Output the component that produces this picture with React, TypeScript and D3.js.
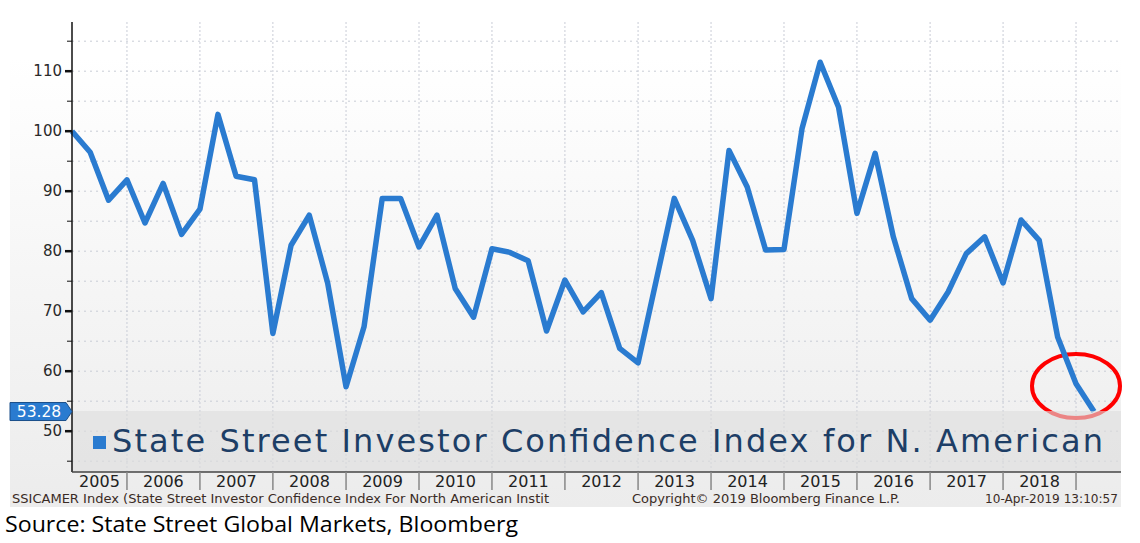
import React from 'react';
import * as d3 from 'd3';

// quarterly readings of the index, first one is Q2 2005
const firstQuarter = new Date(2005, 3, 1);
const indexValues = [
  100, 96.5, 88.5, 91.9, 84.7, 91.3, 82.8, 87.0, 102.8, 92.5, 91.9, 66.3,
  81.0, 86.0, 74.7, 57.4, 67.4, 88.8, 88.8, 80.7, 86.0, 73.8, 69.0, 80.4,
  79.8, 78.4, 66.7, 75.2, 69.9, 73.1, 63.8, 61.4, 75.0, 88.8, 81.8, 72.1,
  96.8, 90.7, 80.2, 80.3, 100.4, 111.5, 104.0, 86.3, 96.3, 82.4, 72.1, 68.5,
  73.2, 79.6, 82.4, 74.7, 85.2, 81.8, 65.7, 57.9, 53.28,
];
const yTickLabels = [50, 60, 70, 80, 90, 100, 110];
const yMinorTicks = [45, 55, 65, 75, 85, 95, 105, 115];
const yearLabels = [2005, 2006, 2007, 2008, 2009, 2010, 2011, 2012, 2013, 2014, 2015, 2016, 2017, 2018];

const legendText = 'State Street Investor Confidence Index for N. American';
const footLeft = 'SSICAMER Index (State Street Investor Confidence Index For North American Instit';
const footMid = 'Copyright\u00a9 2019 Bloomberg Finance L.P.';
const footRight = '10-Apr-2019 13:10:57';
const sourceText = 'Source: State Street Global Markets, Bloomberg';

const W = 1140;
const H = 543;
const plot = { left: 72, right: 1121, top: 22, bottom: 472 };
const lineBlue = '#2a7bd0';
const font = '"DejaVu Sans", Verdana, sans-serif';

const App = () => {
  const points = indexValues.map((v, i) => ({ date: d3.timeMonth.offset(firstQuarter, i * 3), value: v }));
  const last = points[points.length - 1];

  const x = d3.scaleTime()
    .domain([firstQuarter, new Date(2019, 7, 14)])
    .range([plot.left, plot.right]);
  const y = d3.scaleLinear()
    .domain([43.2, 118.2])
    .range([plot.bottom, plot.top]);

  const line = d3.line<{ date: Date; value: number }>()
    .x(d => x(d.date))
    .y(d => y(d.value));

  const yearBounds = d3.timeYear.range(new Date(2006, 0, 1), x.domain()[1]);
  const gridVals = [...yTickLabels, ...yMinorTicks];

  const ly = y(last.value);

  return (
    <svg width={W} height={H} style={{ position: 'absolute', left: 0, top: 0, background: '#fff' }}>
      <defs>
        <linearGradient id="bg" x1="0" y1="0" x2="0" y2="1">
          <stop offset="0" stopColor="#ffffff" />
          <stop offset="1" stopColor="#ececec" />
        </linearGradient>
      </defs>
      <rect x={10} y={57} width={plot.right - 10} height={507 - 57} fill="url(#bg)" />

      {/* dotted grid */}
      {gridVals.map(v => (
        <line key={'h' + v} x1={plot.left} x2={plot.right} y1={y(v)} y2={y(v)}
          stroke="#c9ccd6" strokeWidth={1} strokeDasharray="2,4" />
      ))}
      {yearBounds.map(d => (
        <line key={'v' + d.getFullYear()} x1={x(d)} x2={x(d)} y1={plot.top} y2={plot.bottom}
          stroke="#c9ccd6" strokeWidth={1} strokeDasharray="2,2" />
      ))}

      {/* highlight ring */}
      <ellipse cx={1076} cy={386} rx={44} ry={32} fill="none" stroke="#ff0000" strokeWidth={4} />

      <path d={line(points) || ''} fill="none" stroke={lineBlue} strokeWidth={5.5} strokeLinejoin="round" />

      {/* legend band, semi transparent */}
      <rect x={plot.left} y={411} width={plot.right - plot.left} height={plot.bottom - 411}
        fill="rgb(222,222,222)" fillOpacity={0.6} />
      <rect x={93} y={436} width={13} height={13} fill={lineBlue} />
      <text x={112} y={452} fontFamily={font} fontSize={32} fill="#1d3e66"
        textLength={991} lengthAdjust="spacing">{legendText}</text>

      {/* axes */}
      <line x1={plot.left} x2={plot.left} y1={plot.top} y2={plot.bottom} stroke="#111" strokeWidth={1.5} />
      <line x1={plot.left} x2={plot.right} y1={plot.bottom} y2={plot.bottom} stroke="#444" strokeWidth={1.5} />
      {yTickLabels.map(v => (
        <g key={'t' + v} transform={`translate(0,${y(v)})`}>
          <line x1={65} x2={plot.left} stroke="#111" strokeWidth={2.5} />
          <text x={62} dy="0.35em" textAnchor="end" fontFamily={font} fontSize={15} fill="#2a2a2a">{v}</text>
        </g>
      ))}
      {yMinorTicks.map(v => (
        <line key={'m' + v} x1={67} x2={plot.left} y1={y(v)} y2={y(v)} stroke="#111" strokeWidth={1} />
      ))}

      {yearBounds.map(d => (
        <line key={'s' + d.getFullYear()} x1={x(d)} x2={x(d)} y1={plot.bottom} y2={490}
          stroke="#888" strokeWidth={1.5} />
      ))}
      {yearLabels.map(yr => {
        const x0 = Math.max(x(new Date(yr, 0, 1)), plot.left);
        const x1 = x(new Date(yr + 1, 0, 1));
        return (
          <text key={'y' + yr} x={(x0 + x1) / 2} y={487} textAnchor="middle"
            fontFamily={font} fontSize={16} fill="#222">{yr}</text>
        );
      })}

      {/* last value tag */}
      <path d={`M${10},${ly - 9} L${66},${ly - 9} L${plot.left},${ly} L${66},${ly + 9} L${10},${ly + 9} Z`}
        fill={lineBlue} stroke="#1a4f8a" strokeWidth={1} />
      <text x={39} y={ly} dy="0.36em" textAnchor="middle" fontFamily={font} fontSize={15.5} fill="#fff">
        {last.value.toFixed(2)}
      </text>

      {/* footer */}
      <text x={12} y={503} fontFamily={font} fontSize={12} fill="#3a2b25" textLength={537} lengthAdjust="spacingAndGlyphs">{footLeft}</text>
      <text x={632} y={503} fontFamily={font} fontSize={12} fill="#3a2b25" textLength={268} lengthAdjust="spacingAndGlyphs">{footMid}</text>
      <text x={1118} y={503} textAnchor="end" fontFamily={font} fontSize={12} fill="#3a2b25" textLength={133} lengthAdjust="spacingAndGlyphs">{footRight}</text>

      <text x={5} y={532} fontFamily='"Open Sans", "Liberation Sans", sans-serif' fontSize={21} fill="#000"
        textLength={513} lengthAdjust="spacingAndGlyphs">{sourceText}</text>
    </svg>
  );
};

export default App;
